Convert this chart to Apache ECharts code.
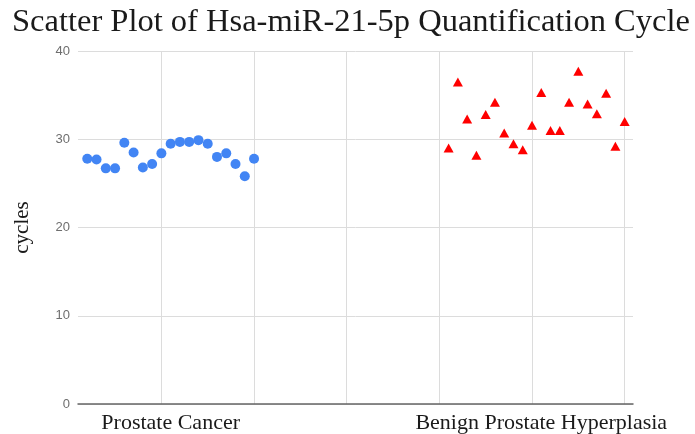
<!DOCTYPE html>
<html>
<head>
<meta charset="utf-8">
<script src="https://cdn.jsdelivr.net/npm/echarts@6/dist/echarts.min.js"></script>
<style>html,body{margin:0;padding:0;background:#fff}#c{width:695px;height:434px}</style>
</head>
<body>
<div id="c"></div>
<script>
const title = 'Scatter Plot of Hsa-miR-21-5p Quantification Cycle';
const groups = ['Prostate Cancer', 'Benign Prostate Hyperplasia'];
const groupLabelPos = [11, 51];
const cancerX = [2,3,4,5,6,7,8,9,10,11,12,13,14,15,16,17,18,19,20];
const cancerY = [27.8,27.7,26.7,26.7,29.6,28.5,26.8,27.2,28.4,29.5,29.7,29.7,29.9,29.5,28.0,28.4,27.2,25.8,27.8];
const bphX = [41,42,43,44,45,46,47,48,49,50,51,52,53,54,55,56,57,58,59,60];
const bphY = [29.0,36.5,32.3,28.2,32.8,34.2,30.7,29.5,28.8,31.6,35.3,31.0,31.0,34.2,37.7,34.0,32.9,35.2,29.2,32.0];
const yTicks = [0, 10, 20, 30, 40];
const yName = 'cycles';

const chart = echarts.init(document.getElementById('c'), null, {renderer: 'canvas'});
chart.setOption({
  animation: false,
  backgroundColor: '#fff',
  title: {
    text: title, left: 7, top: 1,
    textStyle: {fontFamily: 'Liberation Serif', fontSize: 32.5, fontWeight: 'normal', color: '#1a1a1a'}
  },
  grid: {left: 78, right: 62, top: 51, bottom: 30, containLabel: false, outerBoundsMode: 'none'},
  xAxis: {
    type: 'value', min: 1, max: 60.9, splitNumber: 6,
    axisLine: {show: true, lineStyle: {color: '#666', width: 1.5}},
    axisTick: {show: false},
    splitLine: {show: true, showMinLine: false, showMaxLine: false, lineStyle: {color: '#dcdcdc', width: 1}},
    axisLabel: {
      customValues: groupLabelPos,
      formatter: v => groups[groupLabelPos.indexOf(v)] || '',
      fontFamily: 'Liberation Serif', fontSize: 22, color: '#1a1a1a', margin: 8
    }
  },
  yAxis: {
    type: 'value', min: yTicks[0], max: yTicks[yTicks.length - 1], interval: 10,
    name: yName, nameLocation: 'middle', nameGap: 45,
    nameTextStyle: {fontFamily: 'Liberation Serif', fontSize: 21, color: '#1a1a1a'},
    axisLine: {show: false}, axisTick: {show: false},
    splitLine: {lineStyle: {color: '#dcdcdc', width: 1}},
    axisLabel: {fontFamily: 'Liberation Sans', fontSize: 13, color: '#6e6e6e', margin: 8}
  },
  series: [
    {
      type: 'scatter', name: groups[0], symbol: 'circle', symbolSize: 10,
      itemStyle: {color: '#4285f4', opacity: 1},
      data: cancerX.map((x, i) => [x, cancerY[i]])
    },
    {
      type: 'scatter', name: groups[1], symbol: 'triangle', symbolSize: [10, 9],
      itemStyle: {color: '#ff0000', opacity: 1},
      data: bphX.map((x, i) => [x, bphY[i]])
    }
  ]
});
</script>
</body>
</html>
